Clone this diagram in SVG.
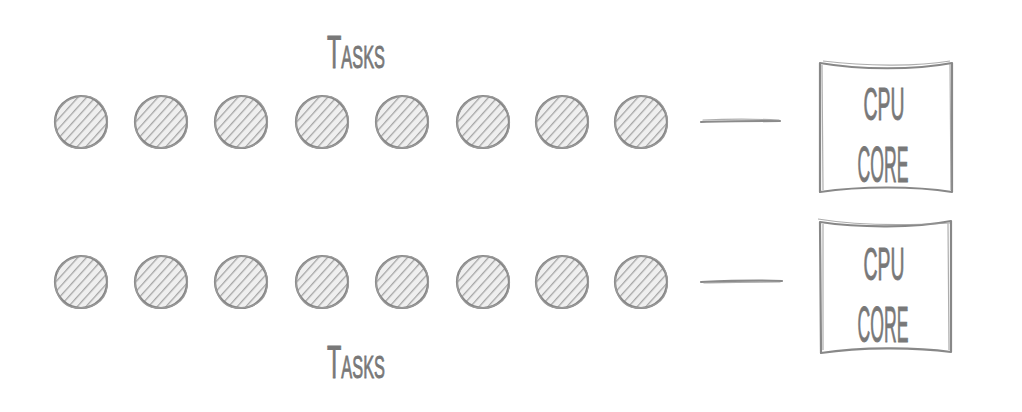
<svg xmlns="http://www.w3.org/2000/svg" xmlns:xlink="http://www.w3.org/1999/xlink" width="1022" height="412" viewBox="0 0 1022 412">
<style>
.lbl{font-family:"Liberation Sans",Arial,sans-serif;fill:#787878;stroke:#787878;stroke-width:0.9;font-variant:small-caps;}
.up{text-transform:uppercase;font-variant:normal;}
.edge{fill:none;stroke:#8a8a8a;stroke-width:2.2;stroke-linecap:round;}
.edge2{fill:none;stroke:#9a9a9a;stroke-width:1.2;stroke-linecap:round;opacity:.8;}
.box{fill:#ffffff;stroke:#888;stroke-width:2.2;stroke-linejoin:round;}
.box2{fill:none;stroke:#999;stroke-width:1.2;opacity:.8;}
</style>
<defs>
<pattern id="hatch" patternUnits="userSpaceOnUse" width="6.5" height="6.5" patternTransform="rotate(42)">
<rect width="6.5" height="6.5" fill="#efefef"/>
<line x1="0" y1="0" x2="0" y2="6.5" stroke="#a6a6a6" stroke-width="2.6"/>
</pattern>
<g id="task">
<circle cx="0" cy="0" r="26" fill="url(#hatch)" stroke="#858585" stroke-width="2.2"/>
<path d="M-24,-8 C-20,-22 -4,-28 10,-25 C24,-20 29,-4 25,10 C20,24 4,28 -10,25 C-22,21 -28,6 -25,-6" fill="none" stroke="#9a9a9a" stroke-width="1.3"/>
</g>
</defs>
<g id="tasks-label-top"><text class="lbl" x="356" y="68" font-size="46" text-anchor="middle" textLength="58" lengthAdjust="spacingAndGlyphs">Tasks</text></g>
<g id="tasks-label-bottom"><text class="lbl" x="356" y="378" font-size="46" text-anchor="middle" textLength="58" lengthAdjust="spacingAndGlyphs">Tasks</text></g>
<g id="task-1-1"><use xlink:href="#task" x="81" y="122"/></g>
<g id="task-1-2"><use xlink:href="#task" x="161" y="122"/></g>
<g id="task-1-3"><use xlink:href="#task" x="241" y="122"/></g>
<g id="task-1-4"><use xlink:href="#task" x="322" y="122"/></g>
<g id="task-1-5"><use xlink:href="#task" x="402" y="122"/></g>
<g id="task-1-6"><use xlink:href="#task" x="483" y="122"/></g>
<g id="task-1-7"><use xlink:href="#task" x="562" y="122"/></g>
<g id="task-1-8"><use xlink:href="#task" x="641" y="122"/></g>
<g id="task-2-1"><use xlink:href="#task" x="81" y="282"/></g>
<g id="task-2-2"><use xlink:href="#task" x="161" y="282"/></g>
<g id="task-2-3"><use xlink:href="#task" x="241" y="282"/></g>
<g id="task-2-4"><use xlink:href="#task" x="322" y="282"/></g>
<g id="task-2-5"><use xlink:href="#task" x="402" y="282"/></g>
<g id="task-2-6"><use xlink:href="#task" x="483" y="282"/></g>
<g id="task-2-7"><use xlink:href="#task" x="562" y="282"/></g>
<g id="task-2-8"><use xlink:href="#task" x="641" y="282"/></g>
<g id="connectors">
<path class="edge" d="M701,122 C725,121 755,121 780,121"/>
<path class="edge2" d="M703,120 C728,119 755,119 779,120"/>
<path class="edge" d="M701,282 C725,281 755,280 782,281"/>
<path class="edge2" d="M704,283 C728,282 756,282 780,282"/>
</g>
<g id="cpu-core-1">
<path class="box" d="M820,63 C860,70 915,70 952,63 L952,192 C915,186 860,186 820,192 Z"/>
<path class="box2" d="M823,61 C865,66 915,67 950,61 M950,64 L951,190 M822,65 L823,190"/>
<text class="lbl" x="884" y="120" font-size="47" text-anchor="middle" textLength="41" lengthAdjust="spacingAndGlyphs">CPU</text>
<text class="lbl up" x="883" y="182" font-size="50" text-anchor="middle" textLength="51" lengthAdjust="spacingAndGlyphs">Core</text>
</g>
<g id="cpu-core-2">
<path class="box" d="M820,222 C860,228 915,228 951,221 L951,352 C915,347 860,347 821,353 Z"/>
<path class="box2" d="M818,219 C860,226 915,225 950,223 M948,223 L949,350 M823,224 L823,350"/>
<text class="lbl" x="884" y="280" font-size="47" text-anchor="middle" textLength="41" lengthAdjust="spacingAndGlyphs">CPU</text>
<text class="lbl up" x="883" y="342" font-size="50" text-anchor="middle" textLength="51" lengthAdjust="spacingAndGlyphs">Core</text>
</g>
</svg>
